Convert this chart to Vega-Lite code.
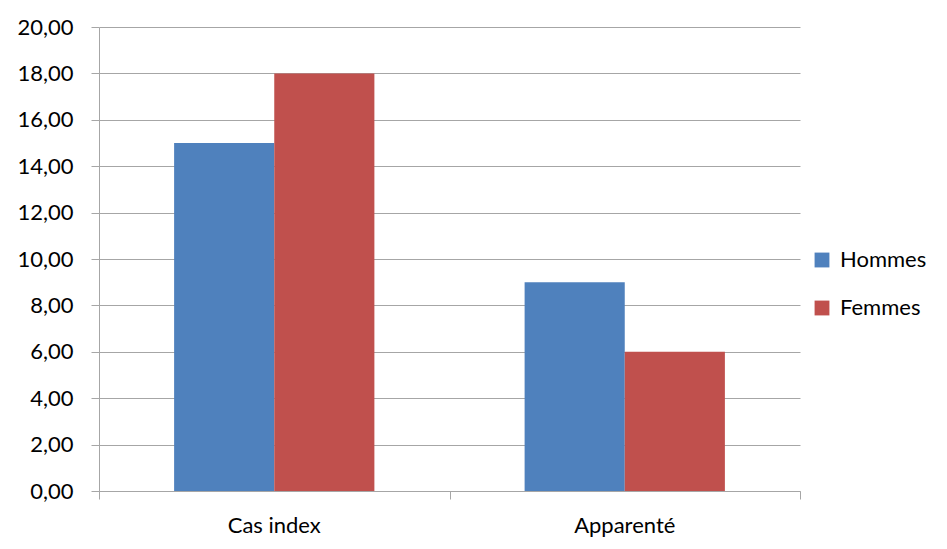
{
  "$schema": "https://vega.github.io/schema/vega-lite/v6.json",
  "width": 701,
  "height": 464,
  "autosize": {"type": "none"},
  "padding": {"left": 99, "top": 27, "right": 147, "bottom": 58},
  "background": "white",
  "data": {"values": [
    {"cat": "Cas index", "sexe": "Hommes", "v": 15},
    {"cat": "Cas index", "sexe": "Femmes", "v": 18},
    {"cat": "Apparenté", "sexe": "Hommes", "v": 9},
    {"cat": "Apparenté", "sexe": "Femmes", "v": 6}
  ]},
  "layer": [
    {
      "mark": {"type": "bar"},
      "encoding": {
        "x": {"field": "cat", "type": "nominal", "sort": ["Cas index", "Apparenté"],
          "scale": {"paddingInner": 0.4286, "paddingOuter": 0.2143},
          "axis": {"title": null, "orient": "bottom", "labelAngle": 0, "ticks": false, "domain": false, "labelPadding": 24}},
        "xOffset": {"field": "sexe", "type": "nominal", "sort": ["Hommes", "Femmes"], "scale": {"paddingInner": 0, "paddingOuter": 0}},
        "y": {"field": "v", "type": "quantitative",
          "scale": {"domain": [0, 20], "nice": false},
          "axis": {"title": null, "values": [0,2,4,6,8,10,12,14,16,18,20], "labelOverlap": false, "tickSize": 8, "labelPadding": 18, "gridColor": "#a6a6a6", "domainColor": "#a6a6a6", "tickColor": "#a6a6a6", "labelExpr": "replace(format(datum.value, '.2f'), '.', ',')"}},
        "color": {"field": "sexe", "type": "nominal", "sort": ["Hommes", "Femmes"],
          "scale": {"domain": ["Hommes", "Femmes"], "range": ["#4F81BD", "#C0504D"]},
          "legend": {"title": null, "orient": "none", "legendX": 712, "legendY": 222, "symbolType": "square", "symbolSize": 220, "rowPadding": 26, "symbolStrokeWidth": 0, "labelOffset": 7}}
      }
    },
    {
      "mark": {"type": "point", "opacity": 0},
      "encoding": {
        "x": {"datum": 0, "type": "quantitative",
          "scale": {"domain": [0, 2], "nice": false},
          "axis": {"title": null, "orient": "bottom", "values": [0, 1, 2], "labels": false, "tickSize": 8, "domainColor": "#a6a6a6", "tickColor": "#a6a6a6", "grid": false}},
        "y": {"datum": 0, "type": "quantitative"}
      }
    }
  ],
  "resolve": {"scale": {"x": "independent"}},
  "config": {
    "view": {"stroke": null},
    "font": "Lato",
    "axis": {"labelFont": "Lato", "labelFontSize": 22, "labelColor": "#000000", "gridWidth": 1, "domainWidth": 1},
    "legend": {"labelFont": "Lato", "labelFontSize": 22, "labelColor": "#000000"}
  }
}
